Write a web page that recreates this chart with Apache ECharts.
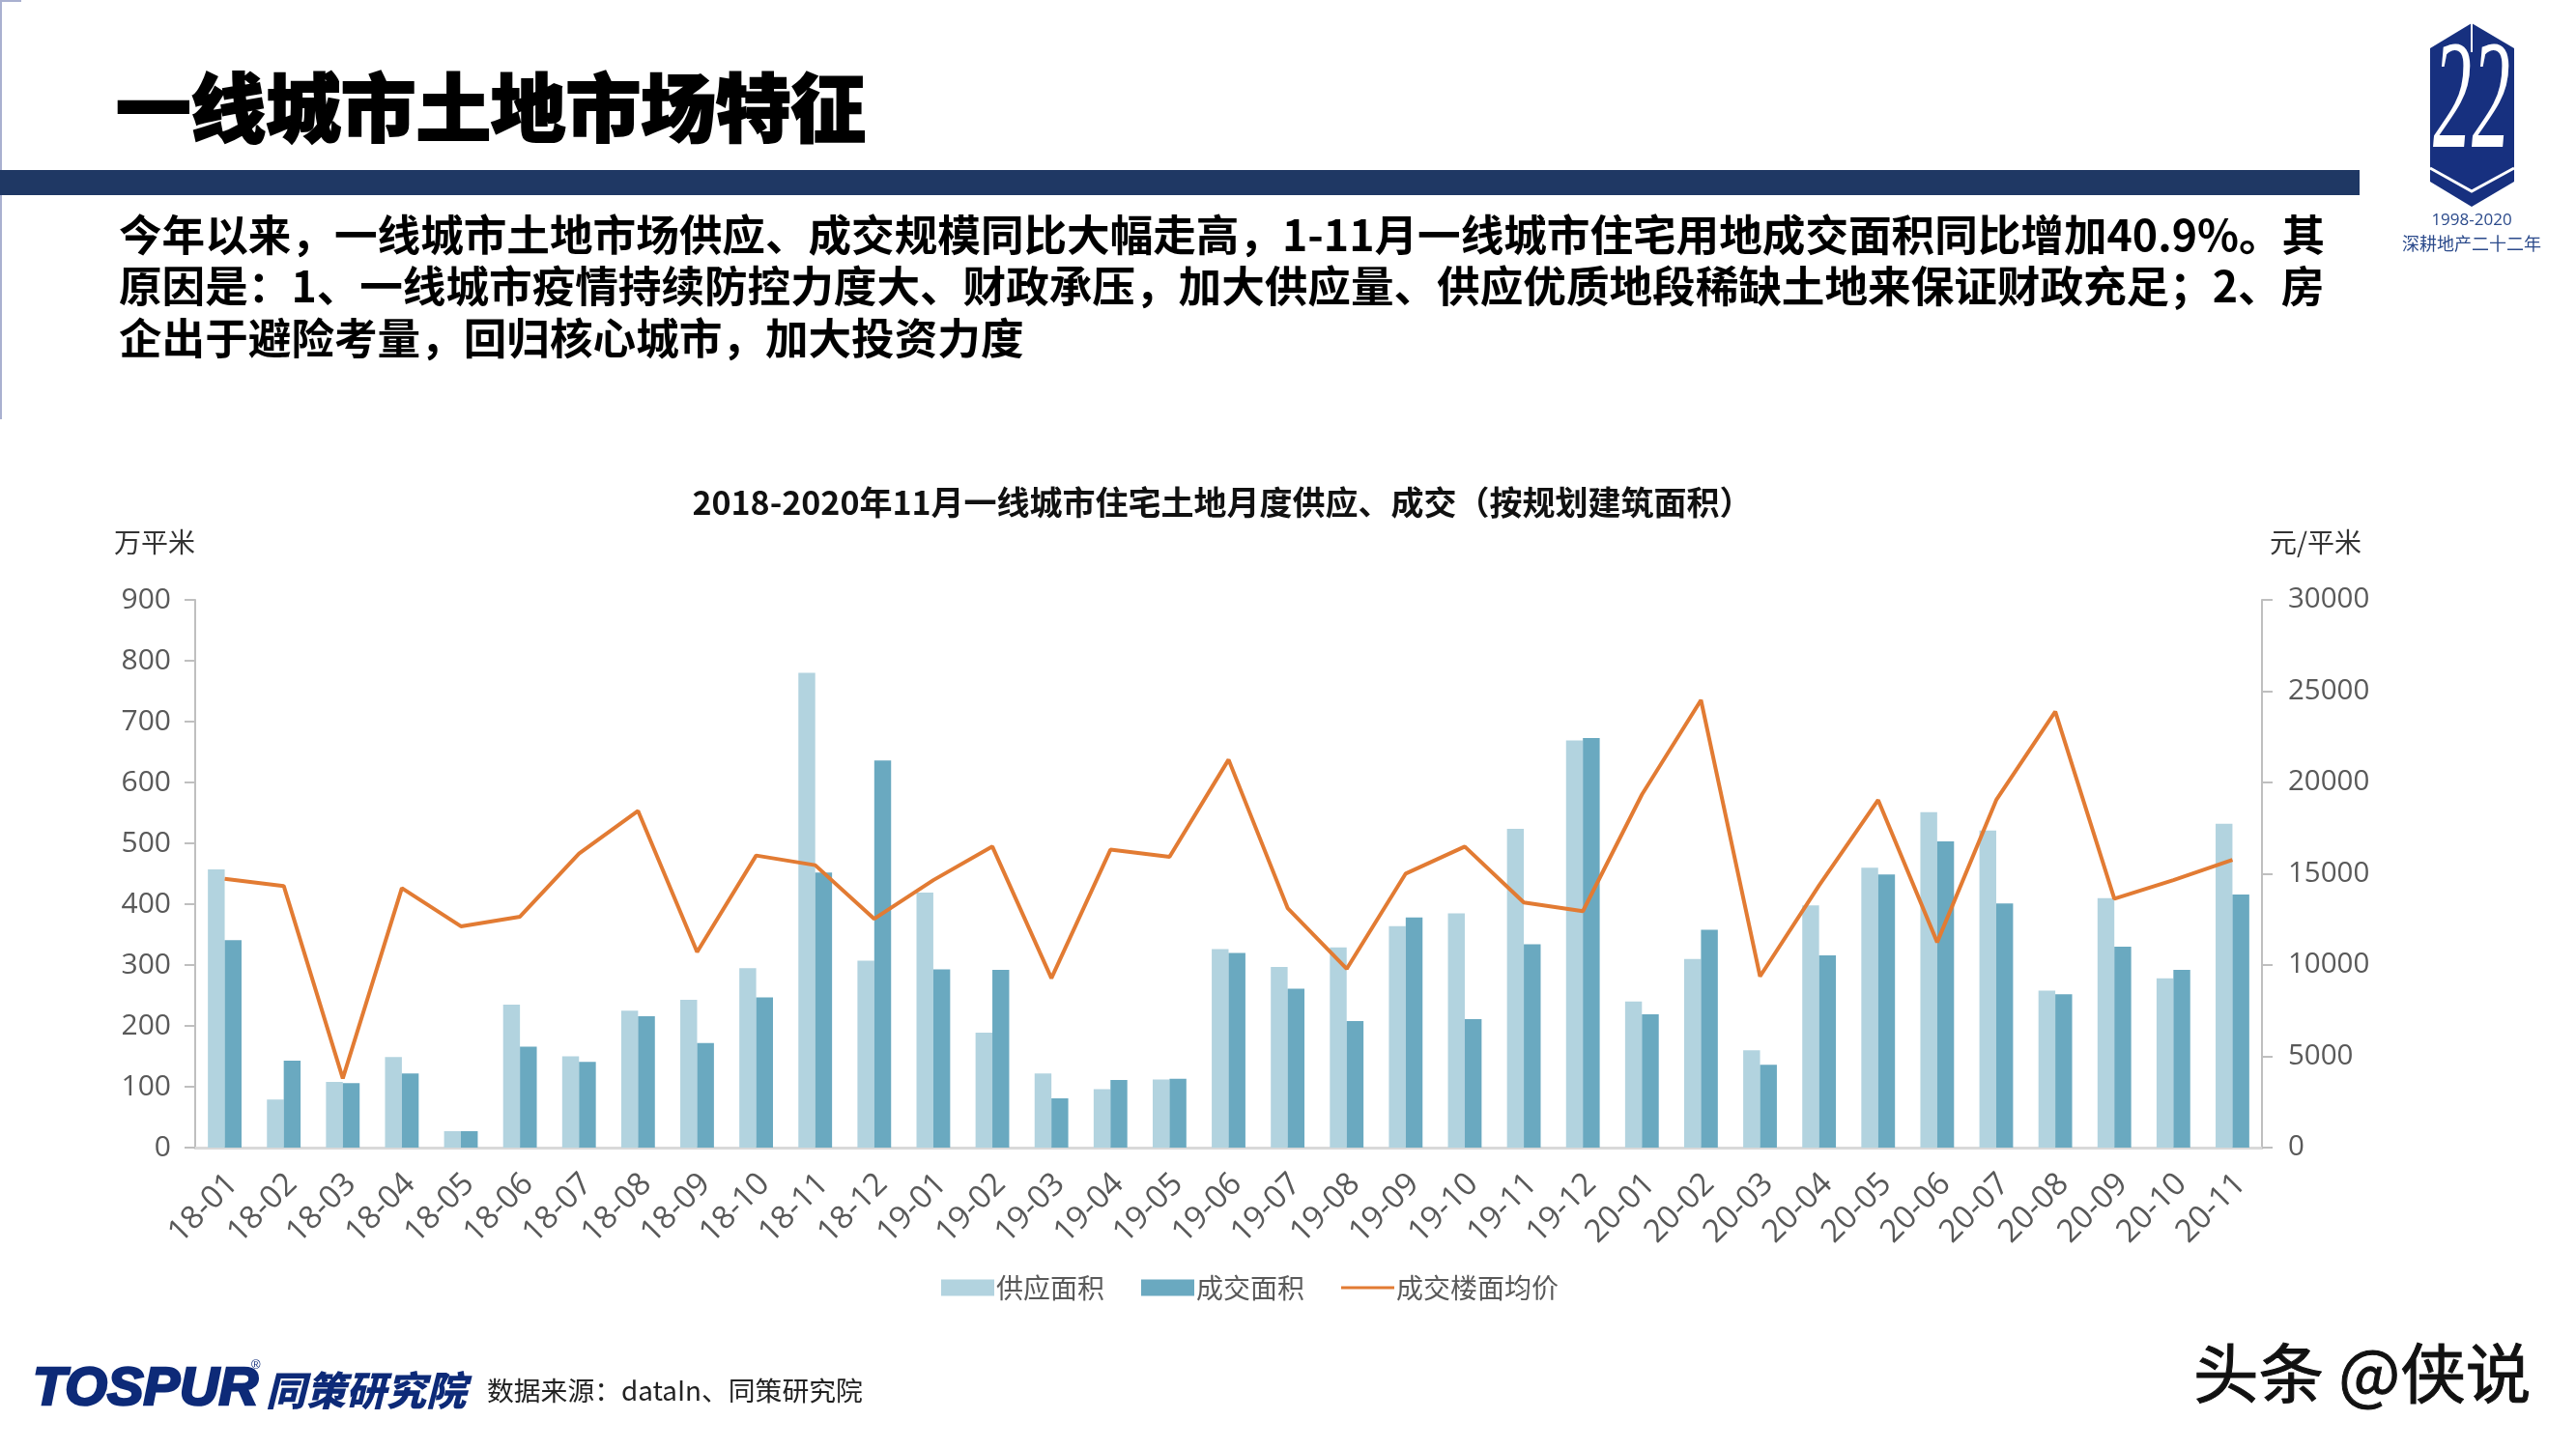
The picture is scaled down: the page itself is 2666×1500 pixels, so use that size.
<!DOCTYPE html>
<html>
<head>
<meta charset="utf-8">
<title>一线城市土地市场特征</title>
<script src="https://cdn.jsdelivr.net/npm/echarts@6/dist/echarts.min.js"></script>
<style>
    html, body { margin: 0; padding: 0; background: #fff; }
    #chart { width: 2666px; height: 1500px; }
</style>
</head>
<body>
<div id="chart"></div>
<script>
const months = ["18-01","18-02","18-03","18-04","18-05","18-06","18-07","18-08","18-09","18-10","18-11","18-12",
    "19-01","19-02","19-03","19-04","19-05","19-06","19-07","19-08","19-09","19-10","19-11","19-12",
    "20-01","20-02","20-03","20-04","20-05","20-06","20-07","20-08","20-09","20-10","20-11"];
const supplyArea = [457,79,108,149,27,235,150,225,243,295,780,307,419,189,122,96,112,326,
    297,329,364,385,524,669,240,310,160,398,460,551,521,258,410,278,532];
const dealArea = [341,143,106,122,27,166,141,216,172,247,452,636,293,292,81,111,113,320,
    261,208,378,211,334,673,219,358,136,316,449,503,401,252,330,292,416];
const avgPrice = [14720,14330,3790,14210,12120,12650,16100,18440,10710,16000,15470,12530,14650,16490,9280,16320,15930,21250,
    13120,9790,15010,16490,13430,12950,19340,24510,9380,14360,19040,11250,19040,23880,13630,14650,15760];
const seriesNames = ["供应面积", "成交面积", "成交楼面均价"];

const pageTitle = "一线城市土地市场特征";
const bodyLines = [
    "今年以来，一线城市土地市场供应、成交规模同比大幅走高，1-11月一线城市住宅用地成交面积同比增加40.9%。其",
    "原因是：1、一线城市疫情持续防控力度大、财政承压，加大供应量、供应优质地段稀缺土地来保证财政充足；2、房",
    "企出于避险考量，回归核心城市，加大投资力度"
];
const chartTitle = "2018-2020年11月一线城市住宅土地月度供应、成交（按规划建筑面积）";
const sourceText = "数据来源：dataIn、同策研究院";

const cjk = '"Noto Sans CJK SC", "Noto Sans", sans-serif';
const labelFont = '"Open Sans", "Noto Sans CJK SC", sans-serif';
const lineIcon = "path://M0 0L0.01 0Z M0 7L55 7L55 10L0 10Z M55 17L55.01 17Z";

const txt = (text, x, y, font, fill, extra) => ({
    type: "text", x: x, y: y, silent: true,
    style: Object.assign({ text: text, font: font, fill: fill, textVerticalAlign: "middle", textAlign: "left" }, extra || {})
});

const chart = echarts.init(document.getElementById("chart"));
chart.setOption({
    backgroundColor: "#ffffff",
    animation: false,
    textStyle: { fontFamily: labelFont },
    title: {
        text: chartTitle, left: 1260, top: 498, textAlign: "center",
        textStyle: { fontFamily: cjk, fontSize: 34, fontWeight: "bold", color: "#111111" }
    },
    legend: {
        left: 969, top: 1314, itemWidth: 55, itemHeight: 17, itemGap: 38,
        textStyle: { fontFamily: cjk, fontSize: 28, color: "#595959", padding: [0, 0, 0, -3] },
        data: [{ name: seriesNames[0], icon: "rect" }, { name: seriesNames[1], icon: "rect" }, { name: seriesNames[2], icon: lineIcon }]
    },
    grid: { left: 202, top: 621, width: 2139, height: 567 },
    xAxis: {
        type: "category", data: months,
        axisLine: { lineStyle: { color: "#d9d9d9", width: 3 } },
        axisTick: { show: false },
        axisLabel: { rotate: 45, interval: 0, fontSize: 33, color: "#595959", margin: 41, padding: [0, -12, 0, 0], fontFamily: labelFont }
    },
    yAxis: [
        {
            type: "value", min: 0, max: 900, interval: 100,
            name: "万平米", nameLocation: "end", nameGap: 46,
            nameTextStyle: { fontFamily: cjk, fontSize: 28, color: "#333333", align: "right" },
            axisLine: { show: true, lineStyle: { color: "#bfbfbf", width: 2 } },
            axisTick: { show: true, length: 11, lineStyle: { color: "#bfbfbf", width: 2 } },
            axisLabel: { fontSize: 30, color: "#595959", margin: 25, fontFamily: labelFont },
            splitLine: { show: false }
        },
        {
            type: "value", min: 0, max: 30000, interval: 5000,
            name: "元/平米", nameLocation: "end", nameGap: 46,
            nameTextStyle: { fontFamily: cjk, fontSize: 28, color: "#333333", align: "left", padding: [0, 0, 0, 8] },
            axisLine: { show: true, lineStyle: { color: "#bfbfbf", width: 2 } },
            axisTick: { show: true, length: 11, lineStyle: { color: "#bfbfbf", width: 2 } },
            axisLabel: { fontSize: 29.5, color: "#595959", margin: 27, fontFamily: labelFont, formatter: v => String(v) },
            splitLine: { show: false }
        }
    ],
    series: [
        { name: seriesNames[0], type: "bar", data: supplyArea, barGap: 0, barCategoryGap: "43%", itemStyle: { color: "#b2d3df" } },
        { name: seriesNames[1], type: "bar", data: dealArea, itemStyle: { color: "#6aa9c0" } },
        { name: seriesNames[2], type: "line", yAxisIndex: 1, data: avgPrice, symbol: "none", lineStyle: { color: "#e27b33", width: 4 }, itemStyle: { color: "#e27b33" } }
    ],
    graphic: [
        { type: "rect", silent: true, shape: { x: 0, y: 0, width: 2, height: 434 }, style: { fill: "#a9b0d0" } },
        { type: "rect", silent: true, shape: { x: 0, y: 0, width: 22, height: 2 }, style: { fill: "#a9b0d0" } },
        { type: "rect", silent: true, shape: { x: 0, y: 176, width: 2442, height: 26 }, style: { fill: "#1f3864" } },
        txt(pageTitle, 120, 112, "900 77.6px " + cjk, "#000000", { stroke: "#000000", lineWidth: 2 }),
        txt(bodyLines[0], 123, 243, "bold 44.6px " + cjk, "#000000"),
        txt(bodyLines[1], 123, 296, "bold 44.6px " + cjk, "#000000"),
        txt(bodyLines[2], 123, 350, "bold 44.6px " + cjk, "#000000"),
        // logo, top right
        { type: "polygon", silent: true, shape: { points: [[2558,24],[2602,50],[2602,188],[2558,214],[2515,188],[2515,50]] }, style: { fill: "#17307f" } },
        { type: "rect", silent: true, shape: { x: 2557, y: 24, width: 2, height: 30 }, style: { fill: "#ffffff" } },
        { type: "polyline", silent: true, shape: { points: [[2515,174],[2558,198],[2602,174]] }, style: { stroke: "#ffffff", lineWidth: 3, fill: "none" } },
        { type: "text", silent: true, x: 2558, y: 110, scaleX: 1, scaleY: 2,
            style: { text: "22", font: "italic 400 80px " + '"Liberation Serif", serif', fill: "#ffffff", textAlign: "center", textVerticalAlign: "middle" } },
        txt("1998-2020", 2558, 228, "17px " + labelFont, "#2b4a8b", { textAlign: "center" }),
        txt("深耕地产二十二年", 2558, 252, "18px " + cjk, "#2b4a8b", { textAlign: "center" }),
        // footer
        { type: "text", silent: true, x: 34, y: 1439, scaleX: 1.08, scaleY: 1.05,
            style: { text: "TOSPUR", font: 'italic 900 52px "Liberation Sans", sans-serif', fill: "#0d2a78", stroke: "#0d2a78", lineWidth: 2.5, textVerticalAlign: "middle" } },
        txt("®", 260, 1413, '13px "Liberation Sans", sans-serif', "#0d2a78"),
        txt("同策研究院", 275, 1439, "italic 900 41.5px " + cjk, "#0d2a78"),
        txt(sourceText, 504, 1439, "27.8px " + cjk, "#222222"),
        txt("头条 @侠说", 2270, 1421, "67.6px " + cjk, "#111111", { stroke: "#111111", lineWidth: 1 })
    ]
});
</script>
</body>
</html>
